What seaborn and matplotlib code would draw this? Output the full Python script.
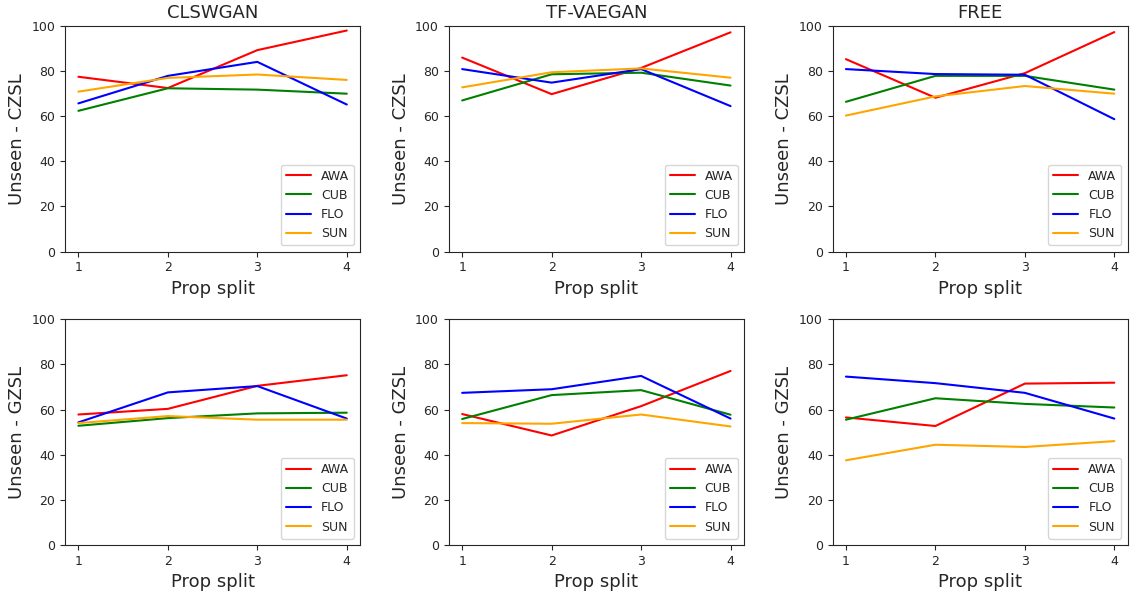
import pandas as pd
import seaborn as sns
import matplotlib.pyplot as plt

splits = [1, 2, 3, 4]
datasets = ['AWA', 'CUB', 'FLO', 'SUN']
methods = ['CLSWGAN', 'TF-VAEGAN', 'FREE']
colors = {'AWA': 'red', 'CUB': 'green', 'FLO': 'blue', 'SUN': 'orange'}

# unseen accuracy, conventional ZSL
czsl_clswgan = {'AWA': [77.5, 72.5, 89.3, 98.0], 'CUB': [62.4, 72.4, 71.8, 70.0],
                'FLO': [65.7, 77.9, 84.1, 65.2], 'SUN': [70.9, 77.0, 78.5, 76.1]}
czsl_tfvaegan = {'AWA': [86.0, 69.8, 81.4, 97.2], 'CUB': [67.0, 78.6, 79.3, 73.6],
                 'FLO': [80.9, 74.9, 80.9, 64.5], 'SUN': [72.8, 79.5, 81.2, 77.1]}
czsl_free = {'AWA': [85.3, 68.2, 79.1, 97.3], 'CUB': [66.4, 77.9, 77.9, 71.8],
             'FLO': [80.9, 78.7, 78.4, 58.7], 'SUN': [60.3, 68.8, 73.4, 70.0]}

# unseen accuracy, generalized ZSL
gzsl_clswgan = {'AWA': [57.8, 60.3, 70.5, 75.2], 'CUB': [52.8, 56.2, 58.3, 58.6],
                'FLO': [54.3, 67.6, 70.4, 56.0], 'SUN': [54.0, 57.1, 55.5, 55.5]}
gzsl_tfvaegan = {'AWA': [58.0, 48.5, 61.5, 77.1], 'CUB': [55.8, 66.4, 68.6, 57.7],
                 'FLO': [67.4, 69.0, 74.9, 56.0], 'SUN': [54.0, 53.7, 57.8, 52.5]}
gzsl_free = {'AWA': [56.5, 52.7, 71.5, 71.9], 'CUB': [55.5, 65.0, 62.5, 60.9],
             'FLO': [74.6, 71.7, 67.4, 56.0], 'SUN': [37.5, 44.4, 43.4, 46.0]}

rows = [('Unseen - CZSL', [czsl_clswgan, czsl_tfvaegan, czsl_free]),
        ('Unseen - GZSL', [gzsl_clswgan, gzsl_tfvaegan, gzsl_free])]

def to_long(vals):
    recs = []
    for d in datasets:
        for s, v in zip(splits, vals[d]):
            recs.append({'split': s, 'acc': v, 'dataset': d})
    return pd.DataFrame(recs)

sns.set_style('ticks')
fig, axes = plt.subplots(2, 3, figsize=(11.3, 5.91), dpi=100)
plt.subplots_adjust(left=0.0575, right=0.998, top=0.956, bottom=0.078,
                    wspace=0.30, hspace=0.30)

for r, (ylab, panels) in enumerate(rows):
    for c, vals in enumerate(panels):
        ax = axes[r, c]
        sns.lineplot(data=to_long(vals), x='split', y='acc', hue='dataset',
                     palette=colors, linewidth=1.5, ax=ax)
        ax.set_ylim(0, 100)
        ax.set_xticks(splits)
        ax.set_xlabel('Prop split', fontsize=13)
        ax.set_ylabel(ylab, fontsize=13)
        ax.tick_params(labelsize=9)
        ax.legend(loc='lower right', fontsize=9, title=None)
        if r == 0:
            ax.set_title(methods[c], fontsize=13)

plt.savefig('out.png', dpi=100)
